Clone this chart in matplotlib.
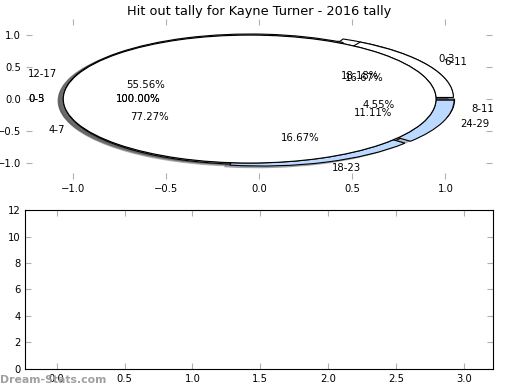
import matplotlib
matplotlib.use('Agg')
import matplotlib.pyplot as plt

title = "Hit out tally for Kayne Turner - 2016 tally"

# pie 1 (drawn first, mostly hidden)
counts_a = [17, 4, 1]
labels_a = ['4-7', '0-3', '8-11']
colors_a = ['white', 'white', '#bcd9ff']
start_a = 344

# pie 2
counts_b = [10, 3, 2, 3]
labels_b = ['12-17', '6-11', '24-29', '18-23']
colors_b = ['white', 'white', '#bcd9ff', '#bcd9ff']
start_b = 260

# two single-wedge pies on top
counts_c = [1]
labels_c = ['0-3']
counts_d = [1]
labels_d = ['0-5']

pies = [
    (counts_a, labels_a, colors_a, start_a),
    (counts_b, labels_b, colors_b, start_b),
    (counts_c, labels_c, ['white'], 0),
    (counts_d, labels_d, ['white'], 0),
]

fig = plt.figure(figsize=(5.2, 3.9), dpi=100)

ax1 = fig.add_axes([0.05, 0.541, 0.896, 0.41])
for counts, labels, colors, start in pies:
    ax1.pie(counts, labels=labels, colors=colors, explode=[0.05] * len(counts),
            autopct='%1.2f%%', shadow={'alpha': 0.35}, startangle=start,
            counterclock=False,
            wedgeprops=dict(edgecolor='black', linewidth=0.8),
            textprops=dict(fontsize=7.3))
ax1.set_aspect('auto')
ax1.set_frame_on(False)
ax1.set_xlim(-1.25, 1.25)
ax1.set_ylim(-1.25, 1.25)
ax1.set_xticks([-1.0, -0.5, 0.0, 0.5, 1.0])
ax1.set_yticks([-1.0, -0.5, 0.0, 0.5, 1.0])
ax1.tick_params(direction='in', top=True, right=True, color='#b0b0b0',
                length=4, labelsize=7.2)
ax1.set_title(title, fontsize=9.3, pad=3)

ax2 = fig.add_axes([0.049, 0.054, 0.899, 0.4075])
ax2.set_xlim(-0.23, 3.215)
ax2.set_ylim(0, 12)
ax2.set_xticks([0.0, 0.5, 1.0, 1.5, 2.0, 2.5, 3.0])
ax2.set_yticks([0, 2, 4, 6, 8, 10, 12])
ax2.tick_params(direction='in', top=True, right=True, color='#b0b0b0',
                length=4, labelsize=7.2)

fig.text(0.0, 0.012, 'Dream-Stats.com', fontsize=7.8, fontweight='bold',
         color='#a0a0a0', ha='left', va='bottom')

fig.savefig('out.png', dpi=100)
